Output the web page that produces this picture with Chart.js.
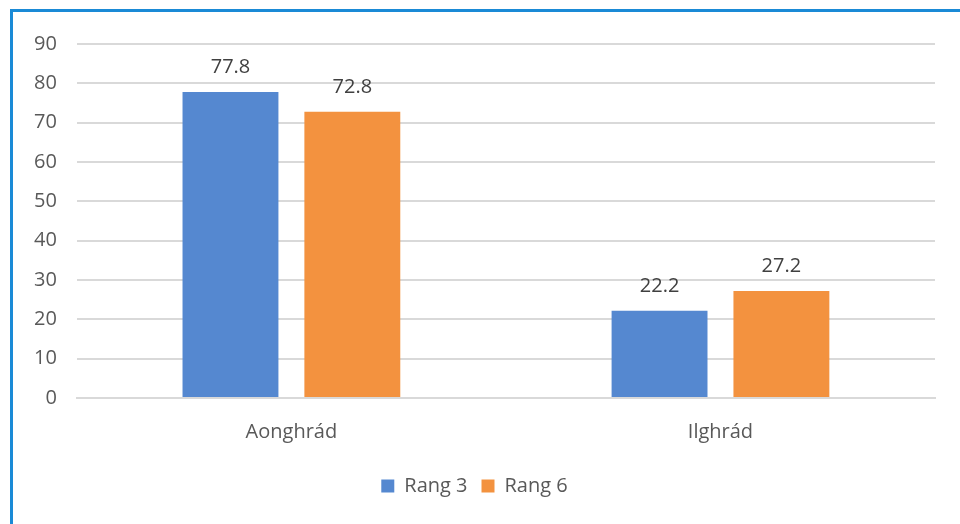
<!DOCTYPE html>
<html><head><meta charset="utf-8">
<script src="https://cdn.jsdelivr.net/npm/chart.js@4/dist/chart.umd.min.js"></script>
<style>
html,body{margin:0;padding:0;background:#fff;}
#wrap{position:absolute;left:0;top:0;width:960px;height:524px;}
#frame{position:absolute;left:10px;top:9px;width:960px;height:530px;border-top:3px solid #1a8ad6;border-left:3px solid #1a8ad6;box-sizing:border-box;pointer-events:none;}
canvas{position:absolute;left:0;top:0;}
</style></head>
<body>
<div id="wrap"><canvas id="c" width="960" height="524"></canvas><div id="frame"></div></div>
<script>
const categories = ["Aonghrád", "Ilghrád"];
const seriesNames = ["Rang 3", "Rang 6"];
const rang3 = [77.8, 22.2];
const rang6 = [72.8, 27.2];
const colors = ["#5588d0", "#f3923f"];
const yMin = 0, yMax = 90, yStep = 10;

const FONT = "'Open Sans', 'Liberation Sans', sans-serif";
const FS = 20;

const labelPlugin = {
  id: 'barLabels',
  afterDatasetsDraw(chart) {
    const ctx = chart.ctx;
    ctx.save();
    ctx.font = FS + "px " + FONT;
    ctx.fillStyle = "#404040";
    ctx.textAlign = "center";
    ctx.textBaseline = "alphabetic";
    chart.data.datasets.forEach((ds, i) => {
      chart.getDatasetMeta(i).data.forEach((bar, j) => {
        ctx.fillText(ds.data[j].toFixed(1), bar.x, bar.y - 19);
      });
    });
    ctx.restore();
  }
};

new Chart(document.getElementById('c'), {
  type: 'bar',
  data: {
    labels: categories,
    datasets: [
      {label: seriesNames[0], data: rang3, backgroundColor: colors[0]},
      {label: seriesNames[1], data: rang6, backgroundColor: colors[1]}
    ]
  },
  options: {
    responsive: false,
    animation: false,
    devicePixelRatio: 1,
    categoryPercentage: 0.568,
    barPercentage: 0.787,
    layout: {padding: {left: 14, right: 25, top: 44, bottom: 18}},
    plugins: {
      legend: {
        position: 'bottom',
        labels: {
          font: {size: FS, family: FONT},
          color: '#595959',
          boxWidth: 13, boxHeight: 13,
          padding: 14
        }
      },
      tooltip: {enabled: false}
    },
    scales: {
      x: {
        grid: {display: false},
        border: {color: '#d9d9d9', width: 2},
        ticks: {font: {size: FS, family: FONT}, color: '#595959', padding: 14},
        afterFit(scale) { scale.height += 4; }
      },
      y: {
        min: yMin, max: yMax,
        ticks: {stepSize: yStep, font: {size: FS, family: FONT}, color: '#595959', padding: 20},
        grid: {color: '#d9d9d9', lineWidth: 2, drawTicks: false},
        border: {display: false}
      }
    }
  },
  plugins: [labelPlugin]
});
</script>
</body></html>
